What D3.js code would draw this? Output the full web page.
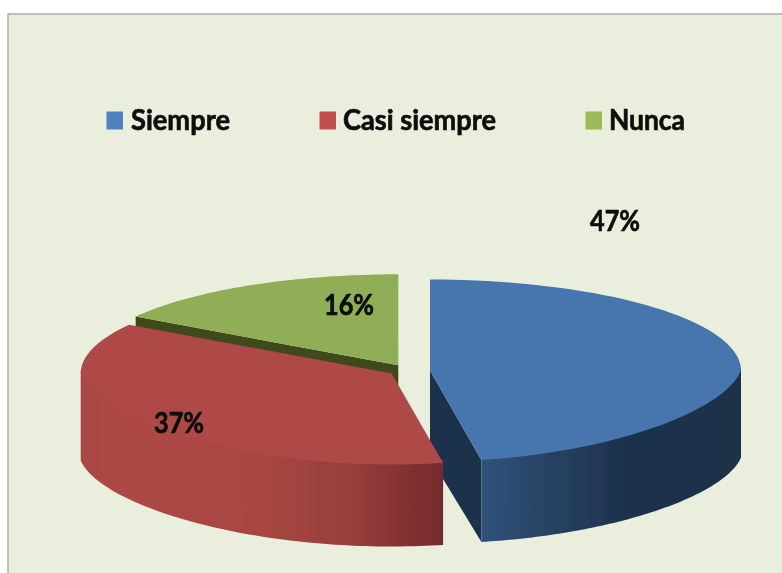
<!DOCTYPE html>
<html><head><meta charset="utf-8">
<script src="https://cdn.jsdelivr.net/npm/d3@7"></script>
<style>html,body{margin:0;padding:0;background:#fff}svg{display:block}text{font-family:Lato,"Open Sans",sans-serif;font-weight:700;fill:#0a0a0a;stroke:#0a0a0a;stroke-width:.65px}</style>
</head><body><svg id="c" width="782" height="573"></svg>
<script>
// Data
const categories = ["Siempre", "Casi siempre", "Nunca"];
const values = [47, 37, 16];
// Style and layout
const legendColors = ["#4f81bd", "#c0504d", "#9bbb59"];
const topColors = ["#4776ae", "#af4946", "#8fae54"];
const cutColors = ["#1c314b", "#752c2d", "#3f4a1e"];
const sliceCenters = [[430, 370.5], [391.7, 373.5], [398.3, 365.3]];
const legendSwatchX = [106.5, 319.5, 585.5];
const legendTextX = [131, 343, 609];
const legendTextW = [99, 153, 76];
const labelAnchors = [[615, 221], [179, 423], [349, 305]];

const W = 782, H = 573, rx = 311, ry = 91, ryBottom = 86, depth = 87, frontSqueeze = 0.12;
const svg = d3.select("#c");
const defs = svg.append("defs");
defs.append("filter").attr("id", "soft").append("feGaussianBlur").attr("stdDeviation", 0.55);

function grad(id, x1, x2, stops) {
  const g = defs.append("linearGradient").attr("id", id).attr("gradientUnits", "userSpaceOnUse")
    .attr("x1", x1).attr("x2", x2).attr("y1", 0).attr("y2", 0);
  stops.forEach(s => g.append("stop").attr("offset", s[0]).attr("stop-color", s[1]));
}
grad("wall0", 481, 741, [[0, "#30527a"], [0.2, "#2a4668"], [0.55, "#1d324c"], [1, "#1c304a"]]);
grad("wall1", 80, 441, [[0, "#a84644"], [0.08, "#ad4845"], [0.5, "#a84643"], [0.75, "#973f3c"], [0.92, "#812f31"], [1, "#752c2d"]]);

// Background panel
svg.append("rect").attr("width", W).attr("height", H).attr("fill", "#fff");
svg.append("rect").attr("x", 8).attr("y", 14).attr("width", W).attr("height", H)
  .attr("fill", "#eaefdd").attr("stroke", "#a9a9a9").attr("stroke-width", 1.4);

const root = svg.append("g").attr("filter", "url(#soft)");
const line = d3.line().x(d => d[0]).y(d => d[1]);
const pie = d3.pie().sort(null).value(d => d)(values);

function point(i, a, lower) {
  const [cx, cy] = sliceCenters[i];
  const c = Math.cos(a), s = Math.sin(a);
  const x = cx + rx * s * (1 + frontSqueeze * Math.min(0, c));
  const y = lower ? cy + depth - ryBottom * c : cy - ry * c;
  return [x, y];
}
function samples(a0, a1) {
  const n = 80;
  return d3.range(n + 1).map(k => a0 + (a1 - a0) * k / n);
}
function apex(i, lower) {
  const [cx, cy] = sliceCenters[i];
  return [cx, lower ? cy + depth : cy];
}

function drawSlice(i) {
  const d = pie[i];
  const g = root.append("g").attr("class", "slice");
  // Cut faces (only those facing the viewer)
  if (i === 0) {
    g.append("path").attr("fill", cutColors[0]).attr("d", line([
      apex(0), point(0, d.endAngle), point(0, d.endAngle, true), apex(0, true)]) + "Z");
  }
  if (i === 2) {
    g.append("path").attr("fill", cutColors[2]).attr("d", line([
      apex(2), point(2, d.startAngle), point(2, d.startAngle, true), apex(2, true)]) + "Z");
  }
  // Outer wall, tucked slightly under the top face so no seam shows
  const w0 = Math.max(d.startAngle, Math.PI / 2), w1 = Math.min(d.endAngle, 3 * Math.PI / 2);
  if (w1 > w0) {
    const upper = samples(w0, w1).map(a => { const p = point(i, a); return [p[0], p[1] - 3]; });
    const lowerPts = samples(w0, w1).map(a => point(i, a, true)).reverse();
    g.append("path").attr("fill", `url(#wall${i})`).attr("d", line(upper.concat(lowerPts)) + "Z");
  }
  // Top face
  g.append("path").attr("fill", topColors[i])
    .attr("d", line([apex(i)].concat(samples(d.startAngle, d.endAngle).map(a => point(i, a)))) + "Z");
}
[2, 0, 1].forEach(drawSlice);

// Legend
const legend = root.selectAll("g.leg").data(categories).join("g").attr("class", "leg");
legend.append("rect").attr("x", (d, i) => legendSwatchX[i]).attr("y", 111.5)
  .attr("width", 16.5).attr("height", 18).attr("fill", (d, i) => legendColors[i]);
legend.append("text").attr("x", (d, i) => legendTextX[i]).attr("y", 130)
  .attr("font-size", 29).attr("textLength", (d, i) => legendTextW[i])
  .attr("lengthAdjust", "spacingAndGlyphs").text(d => d);

// Data labels
root.selectAll("text.val").data(values).join("text").attr("class", "val")
  .attr("x", (d, i) => labelAnchors[i][0]).attr("y", (d, i) => labelAnchors[i][1] + 10)
  .attr("text-anchor", "middle").attr("font-size", 29)
  .attr("textLength", 50).attr("lengthAdjust", "spacingAndGlyphs")
  .text(d => d + "%");
</script></body></html>
